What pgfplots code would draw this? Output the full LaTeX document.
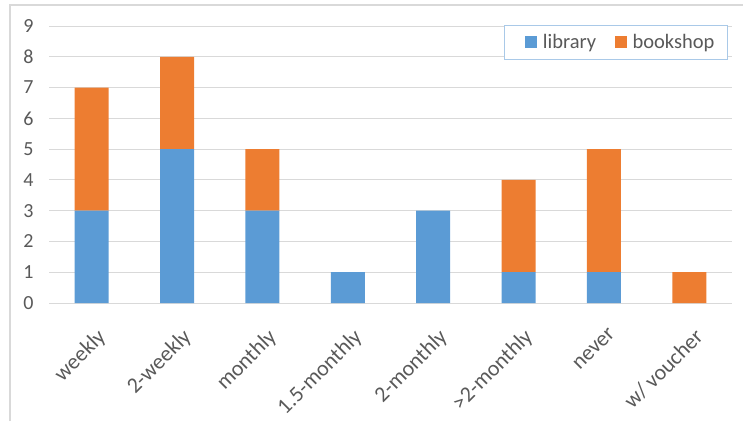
\documentclass[border=0pt]{standalone}
\usepackage{pgfplots}
\pgfplotsset{compat=1.18}
\usepackage{fontspec}
\setmainfont{Carlito}
\definecolor{libblue}{HTML}{5B9BD5}
\definecolor{bookorange}{HTML}{ED7D31}
\definecolor{gridgray}{HTML}{D9D9D9}
\definecolor{txtgray}{HTML}{595959}
\definecolor{legborder}{HTML}{A9C9E8}
\begin{document}
\begin{tikzpicture}
\path[use as bounding box] (0pt,0pt) rectangle (743pt,421pt);
\draw[gridgray, line width=1.2pt] (10pt,0pt) -- (10pt,416pt) -- (743pt,416pt);
\begin{axis}[
  at={(49pt,118pt)}, anchor=south west,
  scale only axis, width=683pt, height=277pt,
  ybar stacked, bar width=34pt,
  xmin=-0.5, xmax=7.5, ymin=0, ymax=9,
  ytick={0,...,9},
  xtick={0,...,7},
  xticklabels={weekly,2-weekly,monthly,1.5-monthly,2-monthly,>2-monthly,never,w/ voucher},
  ymajorgrids, grid style={gridgray, line width=0.8pt},
  axis x line*=bottom, axis y line*=left,
  x axis line style={gridgray, line width=0.8pt},
  y axis line style={draw=none},
  major tick length=0pt,
  tick style={draw=none},
  /pgf/number format/assume math mode=true,
  yticklabel style={font=\fontsize{20}{24}\selectfont, text=txtgray, xshift=-12pt},
  xticklabel style={font=\fontsize{22}{26}\selectfont, text=txtgray, rotate=45, anchor=north east, inner sep=0pt, xshift=-14pt, yshift=-20pt},
  legend style={at={(rel axis cs:0.994,1.004)}, anchor=north east, legend columns=2,
    draw=legborder, line width=0.8pt, font=\fontsize{20.5}{24}\selectfont, text=txtgray,
    inner xsep=12pt, inner ysep=6pt,
    nodes={inner xsep=1pt, inner ysep=3pt},
    /tikz/every odd column/.append style={column sep=5pt},
    /tikz/every even column/.append style={column sep=9.5pt}},
  legend image code/.code={\path (0pt,0pt); \fill[#1] (8pt,-6pt) rectangle (20pt,6pt);},
]
\addplot[fill=libblue, draw=none] coordinates {(0,3) (1,5) (2,3) (3,1) (4,3) (5,1) (6,1) (7,0)};
\addplot[fill=bookorange, draw=none] coordinates {(0,4) (1,3) (2,2) (3,0) (4,0) (5,3) (6,4) (7,1)};
\legend{library,bookshop}
\end{axis}
\end{tikzpicture}
\end{document}
